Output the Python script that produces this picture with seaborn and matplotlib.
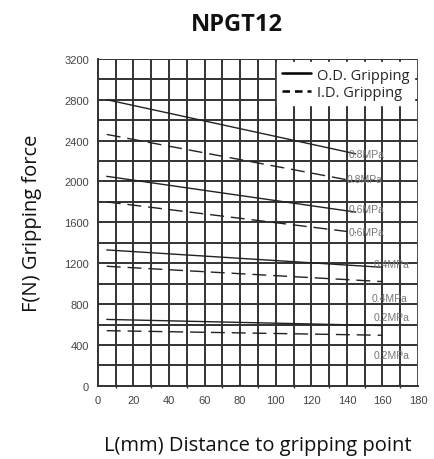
import matplotlib
matplotlib.use("Agg")
import matplotlib.pyplot as plt
import pandas as pd
import seaborn as sns
from matplotlib.lines import Line2D
from matplotlib.ticker import MultipleLocator

# distance (mm) at start/end of each curve
OD_X = {"0.8": [5, 145], "0.6": [5, 145], "0.4": [5, 160], "0.2": [5, 160]}
ID_X = {"0.8": [5, 145], "0.6": [5, 145], "0.4": [5, 160], "0.2": [5, 160]}
# gripping force (N)
OD_FORCE = {"0.8": [2800, 2270], "0.6": [2050, 1700], "0.4": [1330, 1160], "0.2": [650, 590]}
ID_FORCE = {"0.8": [2460, 2000], "0.6": [1800, 1500], "0.4": [1170, 1020], "0.2": [540, 495]}

# pressure labels: (x, y, pressure)
LABELS = [
    (141, 2270, "0.8"),
    (140, 2020, "0.8"),
    (141, 1730, "0.6"),
    (141, 1510, "0.6"),
    (155, 1190, "0.4"),
    (154, 860, "0.4"),
    (155, 670, "0.2"),
    (155, 300, "0.2"),
]

X_TICKS = list(range(0, 181, 20))
Y_TICKS = list(range(0, 3201, 400))


def build_frame() -> pd.DataFrame:
    rows = []
    for p in OD_X:
        for x, f in zip(OD_X[p], OD_FORCE[p]):
            rows.append({"L": x, "F": f, "curve": "OD " + p, "kind": "O.D. Gripping"})
        for x, f in zip(ID_X[p], ID_FORCE[p]):
            rows.append({"L": x, "F": f, "curve": "ID " + p, "kind": "I.D. Gripping"})
    return pd.DataFrame(rows)


def main() -> None:
    sns.set_theme(style="white")
    plt.rcParams["font.family"] = ["Open Sans", "DejaVu Sans"]

    df = build_frame()

    fig = plt.figure(figsize=(4.35, 4.6), dpi=100)
    ax = fig.add_axes([0.225, 0.159, 0.736, 0.711])

    for curve, sub in df.groupby("curve"):
        ls = "-" if curve.startswith("OD") else (0, (10, 5))
        sns.lineplot(data=sub, x="L", y="F", ax=ax, color="#222222",
                     linewidth=1.0, linestyle=ls, legend=False)

    ax.set_xlim(0, 180)
    ax.set_ylim(0, 3200)
    ax.set_xticks(X_TICKS)
    ax.set_yticks(Y_TICKS)
    ax.xaxis.set_minor_locator(MultipleLocator(10))
    ax.yaxis.set_minor_locator(MultipleLocator(200))
    ax.grid(True, which="both", color="#333333", linewidth=1.4)
    ax.set_axisbelow(True)

    for side in ["top", "right"]:
        ax.spines[side].set_visible(False)
    for side in ["left", "bottom"]:
        ax.spines[side].set_color("#333333")
        ax.spines[side].set_linewidth(1.4)
    ax.axvline(180, color="#bbbbbb", linewidth=1.0)

    ax.tick_params(axis="both", which="major", labelsize=8, labelcolor="#444444",
                   length=3, color="#333333", direction="inout", width=1.0, pad=5)
    ax.tick_params(axis="x", which="minor", length=3, direction="inout",
                   color="#333333", width=1.0, bottom=True)
    for lbl in ax.get_xticklabels() + ax.get_yticklabels():
        lbl.set_family(["Liberation Sans", "DejaVu Sans"])

    for x, y, p in LABELS:
        ax.text(x, y, p + "MPa", fontsize=7.5, color="#777777",
                va="center", ha="left", family=["Liberation Sans", "DejaVu Sans"])

    handles = [
        Line2D([], [], color="black", linewidth=1.8, linestyle="-"),
        Line2D([], [], color="black", linewidth=1.8, linestyle=(0, (3, 2))),
    ]
    leg = ax.legend(handles, ["O.D. Gripping", "I.D. Gripping"], loc="upper right",
                    bbox_to_anchor=(1.0, 1.0), fontsize=10.5, frameon=True, fancybox=False,
                    handlelength=2.0, handletextpad=0.4, borderpad=0.35,
                    labelspacing=0.15, borderaxespad=0.25)
    leg.get_frame().set_edgecolor("white")
    leg.get_frame().set_alpha(1.0)

    ax.set_xlabel("L(mm) Distance to gripping point", fontsize=14.5, labelpad=22,
                  color="#111111")
    ax.set_ylabel("F(N) Gripping force", fontsize=14.5, labelpad=16, color="#111111")
    fig.text(0.545, 0.945, "NPGT12", ha="center", va="center", fontsize=17,
             fontweight="bold", color="#111111")

    fig.savefig("out.png", dpi=100)
    plt.close(fig)


if __name__ == "__main__":
    main()
